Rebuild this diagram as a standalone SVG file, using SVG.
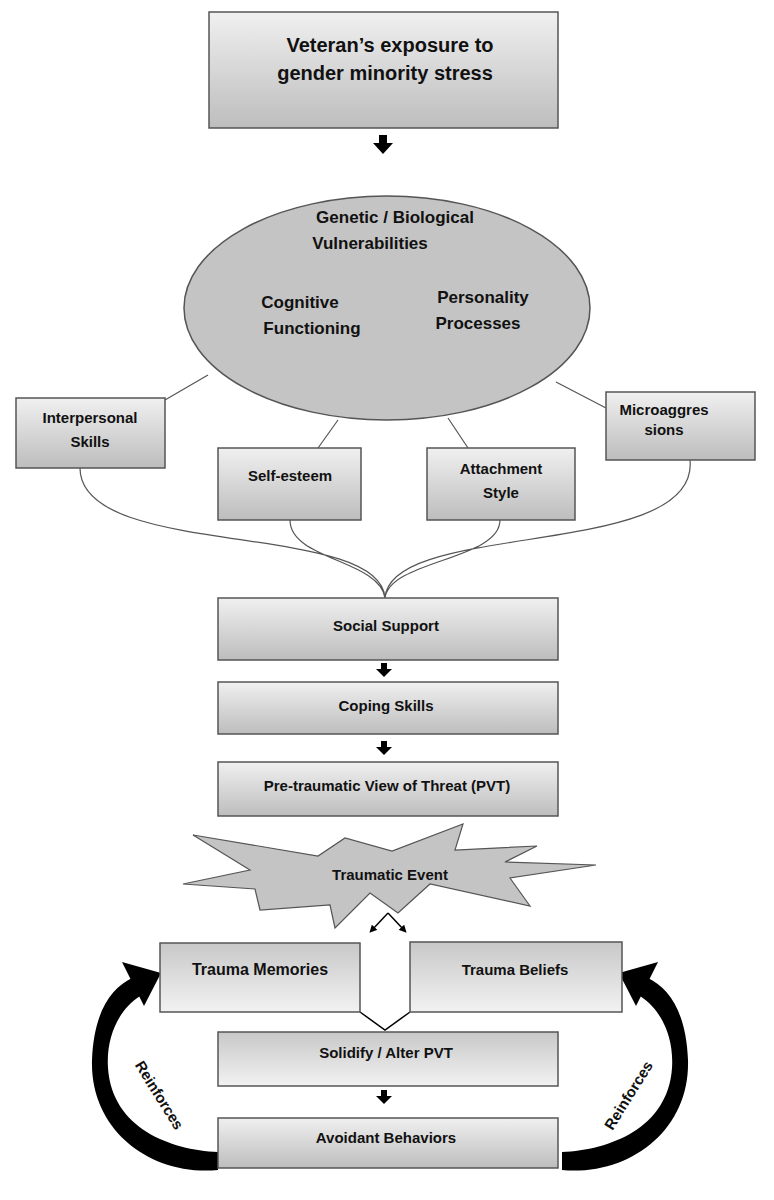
<svg xmlns="http://www.w3.org/2000/svg" width="774" height="1200" viewBox="0 0 774 1200">
<defs>
<linearGradient id="g" x1="0" y1="0" x2="0" y2="1"><stop offset="0" stop-color="#f0f0f0"/><stop offset="1" stop-color="#bdbdbd"/></linearGradient>
<linearGradient id="g2" x1="0" y1="0" x2="0" y2="1"><stop offset="0" stop-color="#c8c8c8"/><stop offset="1" stop-color="#f2f2f2"/></linearGradient>
<marker id="a" viewBox="0 0 10 10" refX="5" refY="5" markerWidth="5" markerHeight="5" orient="auto"><path d="M0,0 L10,5 L0,10 z" fill="#000"/></marker>
</defs>
<style>
.b{fill:url(#g);stroke:#555;stroke-width:1.5}
.b2{fill:url(#g2);stroke:#555;stroke-width:1.5}
text{font-family:"Liberation Sans",Arial,sans-serif;font-weight:bold;font-size:15px;fill:#111;text-anchor:middle}
.t{font-size:20px}
.e{font-size:17px}
.m{font-size:16px}
.c{fill:none;stroke:#555;stroke-width:1.2}
.k{fill:none;stroke:#000;stroke-width:1.5}
</style>
<rect width="774" height="1200" fill="#fff"/>
<g id="connectors">
<path class="c" d="M208,375 L165,400 M338,420 L318,448 M448,418 L468,448 M556,382 L606,408"/>
<path class="c" d="M80,468 C80,560 380,520 385,598 M290,520 C290,560 380,560 385,598 M500,520 C500,560 390,560 385,598 M690,460 C700,560 390,520 385,598"/>
<path class="k" d="M360,1012 L385,1030 L410,1012"/>
<path class="k" d="M388,913 L404,930" marker-end="url(#a)"/>
<path class="k" d="M388,913 L372,930" marker-end="url(#a)"/>
<g fill="#000">
<path d="M379,135 h8 v8 h6 l-10,11 l-10,-11 h6 z"/>
<path d="M381,663 h6 v6 h5 l-8,8 l-8,-8 h5 z"/>
<path d="M381,741 h6 v6 h5 l-8,8 l-8,-8 h5 z"/>
<path d="M381,1090 h6 v6 h5 l-8,8 l-8,-8 h5 z"/>
<g id="reinfL">
<path d="M218,1170 C150,1176 90,1130 92,1060 C94,1010 112,988 132,978 L140,996 C118,1010 106,1038 108,1068 C112,1128 170,1150 218,1152 Z"/>
<path d="M122,962 L161,973 L144,1006 Z"/>
</g>
<g transform="translate(780,0) scale(-1,1)">
<path d="M218,1170 C150,1176 90,1130 92,1060 C94,1010 112,988 132,978 L140,996 C118,1010 106,1038 108,1068 C112,1128 170,1150 218,1152 Z"/>
<path d="M122,962 L161,973 L144,1006 Z"/>
</g>
</g>
<text transform="translate(155,1098) rotate(58)">Reinforces</text>
<text transform="translate(633,1098) rotate(-58)">Reinforces</text>
</g>
<g id="n1"><rect class="b" x="209" y="12" width="349" height="116"/><text class="t" x="390" y="52">Veteran’s exposure to</text><text class="t" x="385" y="80">gender minority stress</text></g>
<g id="n2"><ellipse cx="387" cy="308" rx="203" ry="112" fill="#c4c4c4" stroke="#555" stroke-width="1.5"/>
<text class="e" x="395" y="223">Genetic / Biological</text><text class="e" x="370" y="249">Vulnerabilities</text>
<text class="e" x="300" y="308">Cognitive</text><text class="e" x="312" y="334">Functioning</text>
<text class="e" x="483" y="303">Personality</text><text class="e" x="478" y="329">Processes</text></g>
<g id="n3"><rect class="b" x="16" y="398" width="149" height="70"/><text x="90" y="423">Interpersonal</text><text x="90" y="447">Skills</text></g>
<g id="n4"><rect class="b" x="218" y="448" width="143" height="72"/><text x="290" y="481">Self-esteem</text></g>
<g id="n5"><rect class="b" x="427" y="448" width="148" height="72"/><text x="501" y="474">Attachment</text><text x="501" y="498">Style</text></g>
<g id="n6"><rect class="b" x="606" y="392" width="149" height="68"/><text x="664" y="415">Microaggres</text><text x="664" y="435">sions</text></g>
<g id="n7"><rect class="b" x="218" y="598" width="340" height="62"/><text x="386" y="631">Social Support</text></g>
<g id="n8"><rect class="b" x="218" y="682" width="340" height="52"/><text x="386" y="711">Coping Skills</text></g>
<g id="n9"><rect class="b" x="218" y="762" width="340" height="54"/><text x="387" y="791">Pre-traumatic View of Threat (PVT)</text></g>
<g id="n10"><path d="M193,835 L318,856 L345,838 L392,851 L463,824 L455,850 L537,846 L505,862 L596,865 L510,878 L530,906 L430,884 L398,913 L370,893 L335,928 L330,905 L260,910 L255,889 L183,884 L250,870 Z" fill="#c4c4c4" stroke="#555" stroke-width="1.2"/><text x="390" y="880">Traumatic Event</text></g>
<g id="n11"><rect class="b2" x="160" y="943" width="200" height="69"/><text class="m" x="260" y="975">Trauma Memories</text></g>
<g id="n12"><rect class="b2" x="410" y="942" width="212" height="70"/><text x="515" y="975">Trauma Beliefs</text></g>
<g id="n13"><rect class="b2" x="218" y="1032" width="340" height="54"/><text x="386" y="1058">Solidify / Alter PVT</text></g>
<g id="n14"><rect class="b" x="218" y="1118" width="340" height="50"/><text x="386" y="1143">Avoidant Behaviors</text></g>
</svg>
